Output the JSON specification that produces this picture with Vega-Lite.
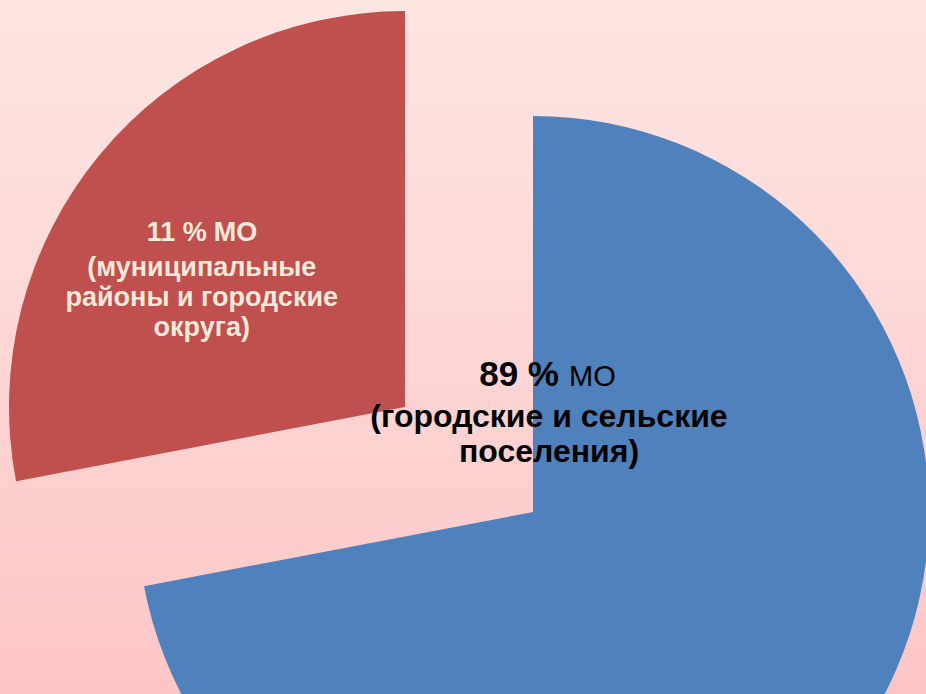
{
  "$schema": "https://vega.github.io/schema/vega-lite/v6.json",
  "width": 926,
  "height": 694,
  "autosize": {"type": "none"},
  "padding": 0,
  "background": "#FDDCDA",
  "config": {"view": {"stroke": null}},
  "data": {
    "values": [
      {"ord": 1, "part": "Городские и сельские поселения", "value": 72, "pct": "89 %", "unit": "МО", "desc": "(городские и сельские\nпоселения)"},
      {"ord": 2, "part": "Муниципальные районы и городские округа", "value": 28, "pct": "11 %", "unit": "МО", "desc": "(муниципальные\nрайоны и городские\nокруга)"}
    ]
  },
  "layer": [
    {
      "data": {"values": [{}]},
      "mark": {
        "type": "rect",
        "color": {
          "gradient": "linear",
          "x1": 0, "y1": 0, "x2": 0, "y2": 1,
          "stops": [
            {"offset": 0, "color": "#FEE6E3"},
            {"offset": 1, "color": "#FCC6C6"}
          ]
        }
      },
      "encoding": {}
    },
    {
      "mark": {"type": "arc", "radius": 396, "xOffset": 70, "yOffset": 165},
      "encoding": {
        "theta": {"field": "value", "type": "quantitative", "stack": true},
        "order": {"field": "ord", "type": "quantitative"},
        "color": {"condition": {"test": "datum.ord === 1", "value": "#4F81BD"}, "value": "transparent"}
      }
    },
    {
      "mark": {"type": "arc", "radius": 396, "xOffset": -58, "yOffset": 60},
      "encoding": {
        "theta": {"field": "value", "type": "quantitative", "stack": true},
        "order": {"field": "ord", "type": "quantitative"},
        "color": {"condition": {"test": "datum.ord === 2", "value": "#C0504D"}, "value": "transparent"}
      }
    },
    {
      "mark": {"type": "text", "radius": 256, "xOffset": -58, "yOffset": 60, "dx": -1, "dy": -3, "align": "right", "baseline": "alphabetic", "font": "Liberation Sans", "fontSize": 27, "fontWeight": "bold", "color": "#F9E9DB"},
      "encoding": {
        "theta": {"field": "value", "type": "quantitative", "stack": true},
        "order": {"field": "ord", "type": "quantitative"},
        "text": {"condition": {"test": "datum.ord === 2", "field": "pct", "type": "nominal"}, "value": ""}
      }
    },
    {
      "mark": {"type": "text", "radius": 256, "xOffset": -58, "yOffset": 60, "dx": 6, "dy": -3, "align": "left", "baseline": "alphabetic", "font": "Liberation Sans", "fontSize": 27, "fontWeight": "bold", "color": "#F9E9DB"},
      "encoding": {
        "theta": {"field": "value", "type": "quantitative", "stack": true},
        "order": {"field": "ord", "type": "quantitative"},
        "text": {"condition": {"test": "datum.ord === 2", "field": "unit", "type": "nominal"}, "value": ""}
      }
    },
    {
      "mark": {"type": "text", "radius": 256, "xOffset": -58, "yOffset": 60, "dx": -6, "dy": 32, "align": "center", "baseline": "alphabetic", "lineBreak": "\n", "lineHeight": 30, "font": "Liberation Sans", "fontSize": 27, "fontWeight": "bold", "color": "#F9E9DB"},
      "encoding": {
        "theta": {"field": "value", "type": "quantitative", "stack": true},
        "order": {"field": "ord", "type": "quantitative"},
        "text": {"condition": {"test": "datum.ord === 2", "field": "desc", "type": "nominal"}, "value": ""}
      }
    },
    {
      "mark": {"type": "text", "radius": 0, "xOffset": 70, "yOffset": 165, "dx": 26, "dy": -126, "align": "right", "baseline": "alphabetic", "font": "Liberation Sans", "fontSize": 35, "fontWeight": "bold", "color": "#000000"},
      "encoding": {
        "theta": {"field": "value", "type": "quantitative", "stack": true},
        "order": {"field": "ord", "type": "quantitative"},
        "text": {"condition": {"test": "datum.ord === 1", "field": "pct", "type": "nominal"}, "value": ""}
      }
    },
    {
      "mark": {"type": "text", "radius": 0, "xOffset": 70, "yOffset": 165, "dx": 36, "dy": -126, "align": "left", "baseline": "alphabetic", "font": "Liberation Sans", "fontSize": 29, "fontWeight": "normal", "color": "#000000"},
      "encoding": {
        "theta": {"field": "value", "type": "quantitative", "stack": true},
        "order": {"field": "ord", "type": "quantitative"},
        "text": {"condition": {"test": "datum.ord === 1", "field": "unit", "type": "nominal"}, "value": ""}
      }
    },
    {
      "mark": {"type": "text", "radius": 0, "xOffset": 70, "yOffset": 165, "dx": 16, "dy": -85, "align": "center", "baseline": "alphabetic", "lineBreak": "\n", "lineHeight": 35, "font": "Liberation Sans", "fontSize": 32, "fontWeight": "bold", "color": "#000000"},
      "encoding": {
        "theta": {"field": "value", "type": "quantitative", "stack": true},
        "order": {"field": "ord", "type": "quantitative"},
        "text": {"condition": {"test": "datum.ord === 1", "field": "desc", "type": "nominal"}, "value": ""}
      }
    }
  ]
}
